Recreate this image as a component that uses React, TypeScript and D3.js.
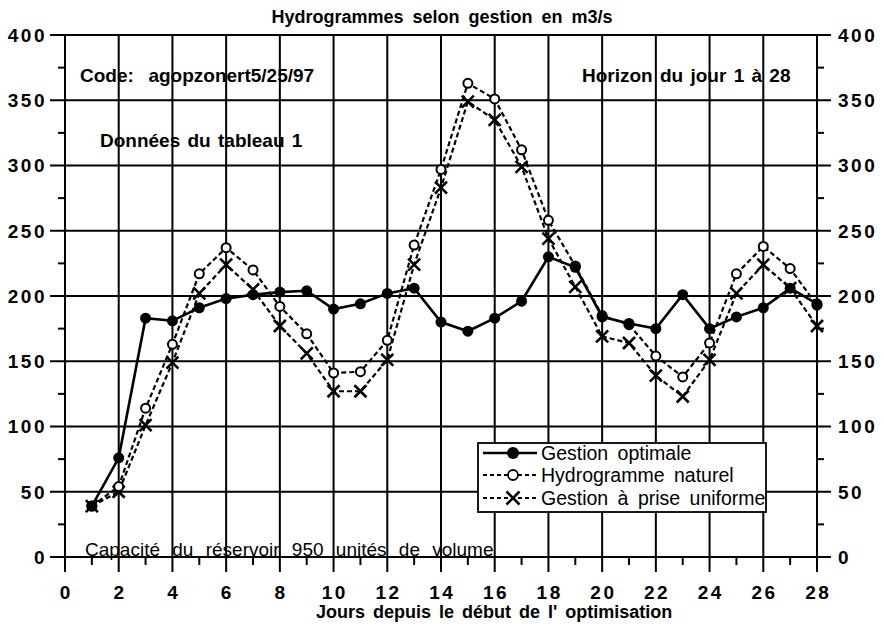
import { useEffect, useRef } from 'react';
import * as d3 from 'd3';

const days = [1, 2, 3, 4, 5, 6, 7, 8, 9, 10, 11, 12, 13, 14, 15, 16, 17, 18, 19, 20, 21, 22, 23, 24, 25, 26, 27, 28];
const gestionOptimale = [39, 76, 183, 181, 191, 198, 201, 203, 204, 190, 194, 202, 206, 180, 173, 183, 196, 230, 222, 184, 179, 175, 201, 175, 184, 191, 206, 194];
const hydrogrammeNaturel = [39, 54, 114, 163, 217, 237, 220, 192, 171, 141, 142, 166, 239, 297, 363, 351, 312, 258, 223, 185, 178, 154, 138, 164, 217, 238, 221, 193];
const priseUniforme = [39, 50, 101, 149, 202, 224, 205, 177, 156, 127, 127, 151, 224, 283, 349, 335, 299, 244, 207, 169, 164, 139, 123, 151, 202, 224, 206, 177];

const yTicks = [0, 50, 100, 150, 200, 250, 300, 350, 400];
const yMinorTicks = [25, 75, 125, 175, 225, 275, 325, 375];
const xTicks = [0, 2, 4, 6, 8, 10, 12, 14, 16, 18, 20, 22, 24, 26, 28];
const xMinorTicks = [1, 3, 5, 7, 9, 11, 13, 15, 17, 19, 21, 23, 25, 27];
const seriesNames = ['Gestion optimale', 'Hydrogramme naturel', 'Gestion à prise uniforme'];

const FONT = '"Liberation Sans", Arial, Helvetica, sans-serif';

function App() {
  const svgRef = useRef<SVGSVGElement | null>(null);

  useEffect(() => {
    const width = 884;
    const height = 637;
    const svg = d3.select(svgRef.current);
    svg.selectAll('*').remove();
    svg.attr('width', width).attr('height', height).attr('viewBox', `0 0 ${width} ${height}`);

    const x = d3.scaleLinear().domain([0, 28]).range([65, 817]);
    const y = d3.scaleLinear().domain([0, 400]).range([557, 35]);

    svg.append('rect').attr('width', width).attr('height', height).attr('fill', '#fff');

    const g = svg.append('g').attr('font-family', FONT).attr('fill', '#000');

    // grid and ticks
    const grid = g.append('g').attr('stroke', '#000').attr('stroke-width', 2);
    grid.selectAll('.hgrid').data(yTicks).enter().append('line')
      .attr('x1', 50).attr('x2', 831)
      .attr('y1', (d) => y(d)).attr('y2', (d) => y(d));
    grid.selectAll('.ltick').data(yMinorTicks).enter().append('line')
      .attr('x1', 58).attr('x2', 65)
      .attr('y1', (d) => y(d)).attr('y2', (d) => y(d));
    grid.selectAll('.rtick').data(yMinorTicks).enter().append('line')
      .attr('x1', 817).attr('x2', 824)
      .attr('y1', (d) => y(d)).attr('y2', (d) => y(d));
    grid.selectAll('.vgrid').data(xTicks).enter().append('line')
      .attr('x1', (d) => x(d)).attr('x2', (d) => x(d))
      .attr('y1', y(400)).attr('y2', y(0) + 15);
    grid.selectAll('.btick').data(xMinorTicks).enter().append('line')
      .attr('x1', (d) => x(d)).attr('x2', (d) => x(d))
      .attr('y1', y(0)).attr('y2', y(0) + 8);

    // tick labels
    g.selectAll('.ylab').data(yTicks).enter().append('text')
      .attr('x', 47).attr('y', (d) => y(d)).attr('dy', '0.36em')
      .attr('text-anchor', 'end').attr('font-size', 19).attr('font-weight', 'bold')
      .attr('letter-spacing', 2.5)
      .text((d) => d);
    g.selectAll('.ylabr').data(yTicks).enter().append('text')
      .attr('x', 838).attr('y', (d) => y(d)).attr('dy', '0.36em')
      .attr('font-size', 19).attr('font-weight', 'bold')
      .attr('letter-spacing', 2.5)
      .text((d) => d);
    g.selectAll('.xlab').data(xTicks).enter().append('text')
      .attr('x', (d) => x(d) + 1.25).attr('y', 592).attr('dy', '0.36em')
      .attr('text-anchor', 'middle').attr('font-size', 19).attr('font-weight', 'bold')
      .attr('letter-spacing', 2.5)
      .text((d) => d);

    // titles
    g.append('text').attr('x', 442).attr('y', 17).attr('dy', '0.36em')
      .attr('text-anchor', 'middle').attr('font-size', 18).attr('font-weight', 'bold')
      .attr('word-spacing', 4)
      .text('Hydrogrammes selon gestion en m3/s');
    g.append('text').attr('x', 316).attr('y', 612).attr('dy', '0.36em')
      .attr('font-size', 18).attr('font-weight', 'bold')
      .attr('word-spacing', 3)
      .text("Jours depuis le début de l' optimisation");

    // annotations
    const note = (tx: number, ty: number, s: string, bold: boolean, ws: number) =>
      g.append('text').attr('x', tx).attr('y', ty).attr('dy', '0.36em')
        .attr('font-size', 19).attr('font-weight', bold ? 'bold' : 'normal')
        .attr('word-spacing', ws).style('white-space', 'pre')
        .text(s);
    note(80, 75, 'Code:  agopzonert5/25/97', true, 2);
    note(100, 140, 'Données du tableau 1', true, 2);
    note(582, 75, 'Horizon du jour 1 à 28', true, 2);
    note(85, 549, 'Capacité du réservoir 950 unités de volume', false, 7);

    // series
    const pts = (vals: number[]) => days.map((d, i) => [x(d), y(vals[i])] as [number, number]);
    const line = d3.line();

    const drawX = (sel: d3.Selection<SVGGElement, unknown, null, undefined>, cx: number, cy: number, r: number) => {
      sel.append('path')
        .attr('d', `M${cx - r},${cy - r}L${cx + r},${cy + r}M${cx - r},${cy + r}L${cx + r},${cy - r}`)
        .attr('stroke', '#000').attr('stroke-width', 2.6).attr('fill', 'none');
    };

    const s3 = g.append('g');
    s3.append('path').attr('d', line(pts(priseUniforme)))
      .attr('fill', 'none').attr('stroke', '#000').attr('stroke-width', 2.2).attr('stroke-dasharray', '5,3');
    pts(priseUniforme).forEach(([cx, cy]) => drawX(s3, cx, cy, 6));

    const s2 = g.append('g');
    s2.append('path').attr('d', line(pts(hydrogrammeNaturel)))
      .attr('fill', 'none').attr('stroke', '#000').attr('stroke-width', 2.2).attr('stroke-dasharray', '5,3');
    s2.selectAll('circle').data(pts(hydrogrammeNaturel)).enter().append('circle')
      .attr('cx', (d) => d[0]).attr('cy', (d) => d[1]).attr('r', 4.5)
      .attr('fill', '#fff').attr('stroke', '#000').attr('stroke-width', 2);

    const s1 = g.append('g');
    s1.append('path').attr('d', line(pts(gestionOptimale)))
      .attr('fill', 'none').attr('stroke', '#000').attr('stroke-width', 2.6);
    s1.selectAll('circle').data(pts(gestionOptimale)).enter().append('circle')
      .attr('cx', (d) => d[0]).attr('cy', (d) => d[1]).attr('r', 5.5)
      .attr('fill', '#000');

    // legend
    const lg = g.append('g');
    lg.append('rect').attr('x', 478).attr('y', 443).attr('width', 288).attr('height', 69)
      .attr('fill', '#fff').attr('stroke', '#000').attr('stroke-width', 1.8);
    const rows = [453, 475, 498];
    seriesNames.forEach((name, i) => {
      const ry = rows[i];
      lg.append('line').attr('x1', 483).attr('x2', 537).attr('y1', ry).attr('y2', ry)
        .attr('stroke', '#000').attr('stroke-width', i === 0 ? 2.4 : 2)
        .attr('stroke-dasharray', i === 0 ? null : '4,3');
      if (i === 0) {
        lg.append('circle').attr('cx', 513).attr('cy', ry).attr('r', 6).attr('fill', '#000');
      } else if (i === 1) {
        lg.append('circle').attr('cx', 513).attr('cy', ry).attr('r', 5)
          .attr('fill', '#fff').attr('stroke', '#000').attr('stroke-width', 1.8);
      } else {
        drawX(lg, 513, ry, 6.5);
      }
      lg.append('text').attr('x', 541).attr('y', ry).attr('dy', '0.36em')
        .attr('font-size', 19.5).attr('word-spacing', 4)
        .text(name);
    });
  }, []);

  return <svg ref={svgRef} style={{ display: 'block', position: 'absolute', left: 0, top: 0 }}></svg>;
}

export default App;
